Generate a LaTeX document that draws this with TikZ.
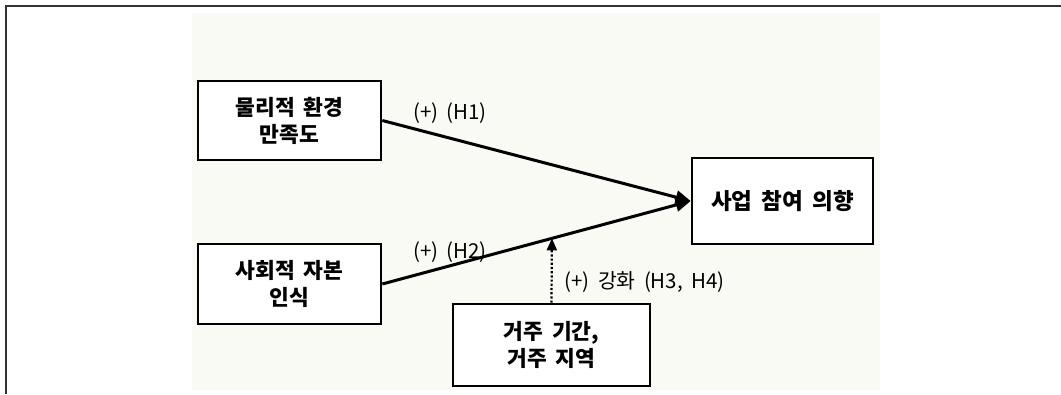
\documentclass[tikz,border=0pt]{standalone}
\usepackage{fontspec}
\setmainfont[WordSpace=1.8]{Noto Sans CJK KR}
\usetikzlibrary{arrows.meta,calc}
\definecolor{bgcream}{HTML}{FAFAF5}
\definecolor{framegray}{HTML}{333333}
\tikzset{
  boxnode/.style={draw=black, line width=2.6pt, fill=white, align=center, inner sep=0pt,
    font=\fontsize{21.5}{27}\selectfont\bfseries},
  lbl/.style={font=\fontsize{20.5}{24}\selectfont, inner sep=0pt},
  mainarrow/.style={line width=3pt, -{Triangle[length=15pt,width=13pt]}},
  dotarrow/.style={line width=2.2pt, dash pattern=on 2.2pt off 2pt, -{Triangle[length=12pt,width=10pt]}},
}
\begin{document}
\begin{tikzpicture}[x=1pt,y=-1pt]
\useasboundingbox (0,0) rectangle (1061,394);
\fill[bgcream] (192,13) rectangle (880,390);
\draw[framegray, line width=2pt] (6,394) -- (6,6) -- (1061,6);
\node[boxnode, minimum width=183pt, minimum height=79pt] (b1) at (289.5,120.5) {물리적 환경\\만족도};
\node[boxnode, minimum width=183pt, minimum height=80pt] (b2) at (289.5,284) {사회적 자본\\인식};
\node[boxnode, minimum width=197pt, minimum height=82pt] (b3) at (551.5,345) {거주 기간,\\거주 지역};
\node[boxnode, minimum width=181pt, minimum height=86pt, font=\fontsize{22.5}{27}\selectfont\bfseries] (tgt) at (782.5,201) {사업 참여 의향};
\draw[mainarrow] (b1.east) -- (tgt.west);
\draw[mainarrow] (b2.east) -- (tgt.west);
\coordinate (mod) at ($(b2.east)!0.55!(tgt.west)$);
\draw[dotarrow] (b3.north) -- (mod);
\node[lbl] (l1) at (450,113) {(+) (H1)};
\node[lbl] (l2) at (450,252) {(+) (H2)};
\node[lbl] (l3) at (644.5,282) {(+) 강화 (H3, H4)};
\end{tikzpicture}
\end{document}
